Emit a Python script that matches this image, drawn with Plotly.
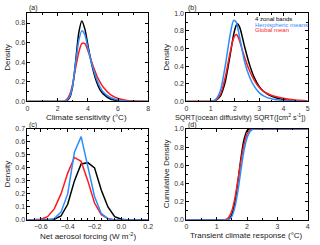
import plotly.graph_objects as go

# ---------------- data ----------------
# (a) Climate sensitivity densities
cs_x = [0, 1, 2, 2.4, 2.6, 2.8, 3.0, 3.2, 3.4, 3.6, 3.8, 4.0, 4.2, 4.4, 4.6, 4.8, 5.0, 5.5, 6.0, 6.5, 7.0, 8.0]
cs_black = [0, 0, 0, 0, 0.005, 0.04, 0.16, 0.42, 0.70, 0.82, 0.74, 0.58, 0.42, 0.29, 0.19, 0.12, 0.08, 0.025, 0.008, 0.002, 0, 0]
cs_blue = [0, 0, 0, 0, 0.01, 0.05, 0.17, 0.40, 0.62, 0.72, 0.68, 0.55, 0.42, 0.31, 0.22, 0.15, 0.10, 0.04, 0.015, 0.005, 0, 0]
cs_red = [0, 0, 0, 0, 0.02, 0.07, 0.18, 0.35, 0.50, 0.59, 0.59, 0.52, 0.43, 0.34, 0.26, 0.20, 0.15, 0.07, 0.03, 0.012, 0.004, 0]

# (b) SQRT(ocean diffusivity) densities
od_x = [0, 1.0, 1.2, 1.4, 1.6, 1.8, 1.95, 2.05, 2.1, 2.2, 2.4, 2.6, 2.8, 3.0, 3.2, 3.5, 4.0, 4.5, 5.0]
od_black = [0, 0, 0.01, 0.06, 0.22, 0.52, 0.76, 0.86, 0.88, 0.84, 0.62, 0.42, 0.27, 0.17, 0.11, 0.06, 0.02, 0.005, 0]
od_blue = [0, 0, 0.02, 0.12, 0.40, 0.75, 0.92, 0.90, 0.86, 0.72, 0.45, 0.28, 0.17, 0.10, 0.06, 0.03, 0.01, 0.003, 0]
od_red = [0, 0, 0.01, 0.08, 0.27, 0.55, 0.72, 0.76, 0.75, 0.68, 0.50, 0.35, 0.24, 0.16, 0.11, 0.07, 0.035, 0.015, 0.006]

# (c) Net aerosol forcing densities
af_x = [-0.7, -0.65, -0.6, -0.55, -0.5, -0.45, -0.4, -0.35, -0.3, -0.25, -0.2, -0.15, -0.1, -0.05, 0.0, 0.05, 0.1, 0.15, 0.2]
af_black = [0, 0, 0, 0, 0.005, 0.03, 0.12, 0.30, 0.43, 0.44, 0.40, 0.23, 0.10, 0.025, 0.005, 0, 0, 0, 0]
af_blue = [0, 0, 0, 0, 0.01, 0.06, 0.20, 0.52, 0.64, 0.40, 0.18, 0.05, 0.01, 0, 0, 0, 0, 0, 0]
af_red = [0, 0, 0.005, 0.025, 0.085, 0.20, 0.36, 0.48, 0.45, 0.30, 0.13, 0.04, 0.01, 0, 0, 0, 0, 0, 0]

# (d) Transient climate response cumulative densities
tcr_x = [0, 1.2, 1.3, 1.4, 1.5, 1.6, 1.7, 1.8, 1.9, 2.0, 2.1, 2.2, 2.3, 2.4, 4.0]
tcr_black = [0, 0, 0, 0.01, 0.06, 0.20, 0.42, 0.68, 0.88, 0.98, 1.0, 1.0, 1.0, 1.0, 1.0]
tcr_red = [0, 0, 0.005, 0.03, 0.10, 0.24, 0.44, 0.65, 0.83, 0.94, 0.99, 1.0, 1.0, 1.0, 1.0]
tcr_blue = [0, 0, 0, 0.005, 0.04, 0.14, 0.32, 0.55, 0.76, 0.90, 0.97, 0.995, 1.0, 1.0, 1.0]

legend_labels = ["4 zonal bands", "Hemispheric means", "Global mean"]
BLACK, BLUE, RED = "#000000", "#2a8cff", "#ff1a1a"
FONT = "Arial, Liberation Sans, Helvetica, sans-serif"

fig = go.Figure()

def add(x, y, color, xa, ya, shape="spline"):
    fig.add_trace(go.Scatter(x=x, y=y, mode="lines", xaxis=xa, yaxis=ya,
                             line=dict(color=color, width=1.5, shape=shape, smoothing=0.7),
                             showlegend=False, hoverinfo="skip"))

add(cs_x, cs_black, BLACK, "x", "y")
add(cs_x, cs_red, RED, "x", "y")
add(cs_x, cs_blue, BLUE, "x", "y")
add(od_x, od_black, BLACK, "x2", "y2")
add(od_x, od_red, RED, "x2", "y2")
add(od_x, od_blue, BLUE, "x2", "y2")
add(af_x, af_black, BLACK, "x3", "y3", "linear")
add(af_x, af_red, RED, "x3", "y3", "linear")
add(af_x, af_blue, BLUE, "x3", "y3", "linear")
add(tcr_x, tcr_black, BLACK, "x4", "y4")
add(tcr_x, tcr_red, RED, "x4", "y4")
add(tcr_x, tcr_blue, BLUE, "x4", "y4")

W, H = 320, 245
xl = [26 / W, 149.5 / W]
xr = [188.5 / W, 312.5 / W]
yt = [1 - 100.3 / H, 1 - 9.5 / H]
yb = [1 - 222.3 / H, 1 - 128.5 / H]

def ax(domain, rng, dtick, fmt, anchor, minor_dtick):
    return dict(domain=domain, range=rng, dtick=dtick, tick0=0, tickformat=fmt, anchor=anchor,
                showgrid=False, zeroline=False, showline=True, linecolor="black", linewidth=1,
                mirror="ticks", ticks="inside", ticklen=3, tickwidth=1, tickcolor="black",
                minor=dict(ticks="inside", ticklen=1.5, dtick=minor_dtick, tick0=0, tickcolor="black", showgrid=False),
                tickfont=dict(size=7, color="#333333", family=FONT), fixedrange=True)

fig.update_layout(
    width=W, height=H, margin=dict(l=0, r=0, t=0, b=0),
    paper_bgcolor="white", plot_bgcolor="white",
    font=dict(family=FONT, size=7, color="#222222"),
    xaxis=ax(xl, [0, 8], 2, "d", "y", 1),
    yaxis=ax(yt, [0, 0.9], 0.2, ".1f", "x", 0.1),
    xaxis2=ax(xr, [0, 5], 1, "d", "y2", 0.5),
    yaxis2=ax(yt, [0, 1.0], 0.2, ".1f", "x2", 0.1),
    xaxis3=ax(xl, [-0.7, 0.2], 0.2, ".1f", "y3", 0.05),
    yaxis3=ax(yb, [0, 0.7], 0.1, ".1f", "x3", 0.05),
    xaxis4=ax(xr, [0, 4], 1, "d", "y4", 0.5),
    yaxis4=ax(yb, [0, 1.0], 0.2, ".1f", "x4", 0.1),
)

def ann(text, x, y, size=8, color="#222222", xanchor="center", angle=0):
    fig.add_annotation(text=text, x=x / W, y=1 - y / H, xref="paper", yref="paper",
                       showarrow=False, xanchor=xanchor, yanchor="middle", textangle=angle,
                       font=dict(size=size, color=color, family=FONT))

# axis titles
ann("Climate sensitivity (°C)", 86, 116.5)
ann("SQRT(ocean diffusivity) SQRT([cm<sup>2</sup> s<sup>-1</sup>])", 244, 116, size=7.3)
ann("Net aerosol forcing (W m<sup>-2</sup>)", 88, 238.5)
ann("Transient climate response (°C)", 250, 238.5)
ann("Density", 5.5, 55, angle=-90)
ann("Density", 168, 55, angle=-90)
ann("Density", 5.5, 175, angle=-90)
ann("Cumulative Density", 168, 175, angle=-90)
# panel labels
ann("(a)", 26, 4.5, size=7, xanchor="left")
ann("(b)", 188, 4.5, size=7, xanchor="left")
ann("(c)", 26, 124.3, size=7, xanchor="left")
ann("(d)", 188, 124.3, size=7, xanchor="left")
# legend in (b)
for lab, col, yy in zip(legend_labels, [BLACK, BLUE, RED], [15.7, 21.2, 26.6]):
    ann(lab, 257, yy, size=6, color=col, xanchor="left")

fig.write_html("out.html", config={"displayModeBar": False},
               post_script="document.body.style.margin='0';document.body.style.overflow='hidden';")
